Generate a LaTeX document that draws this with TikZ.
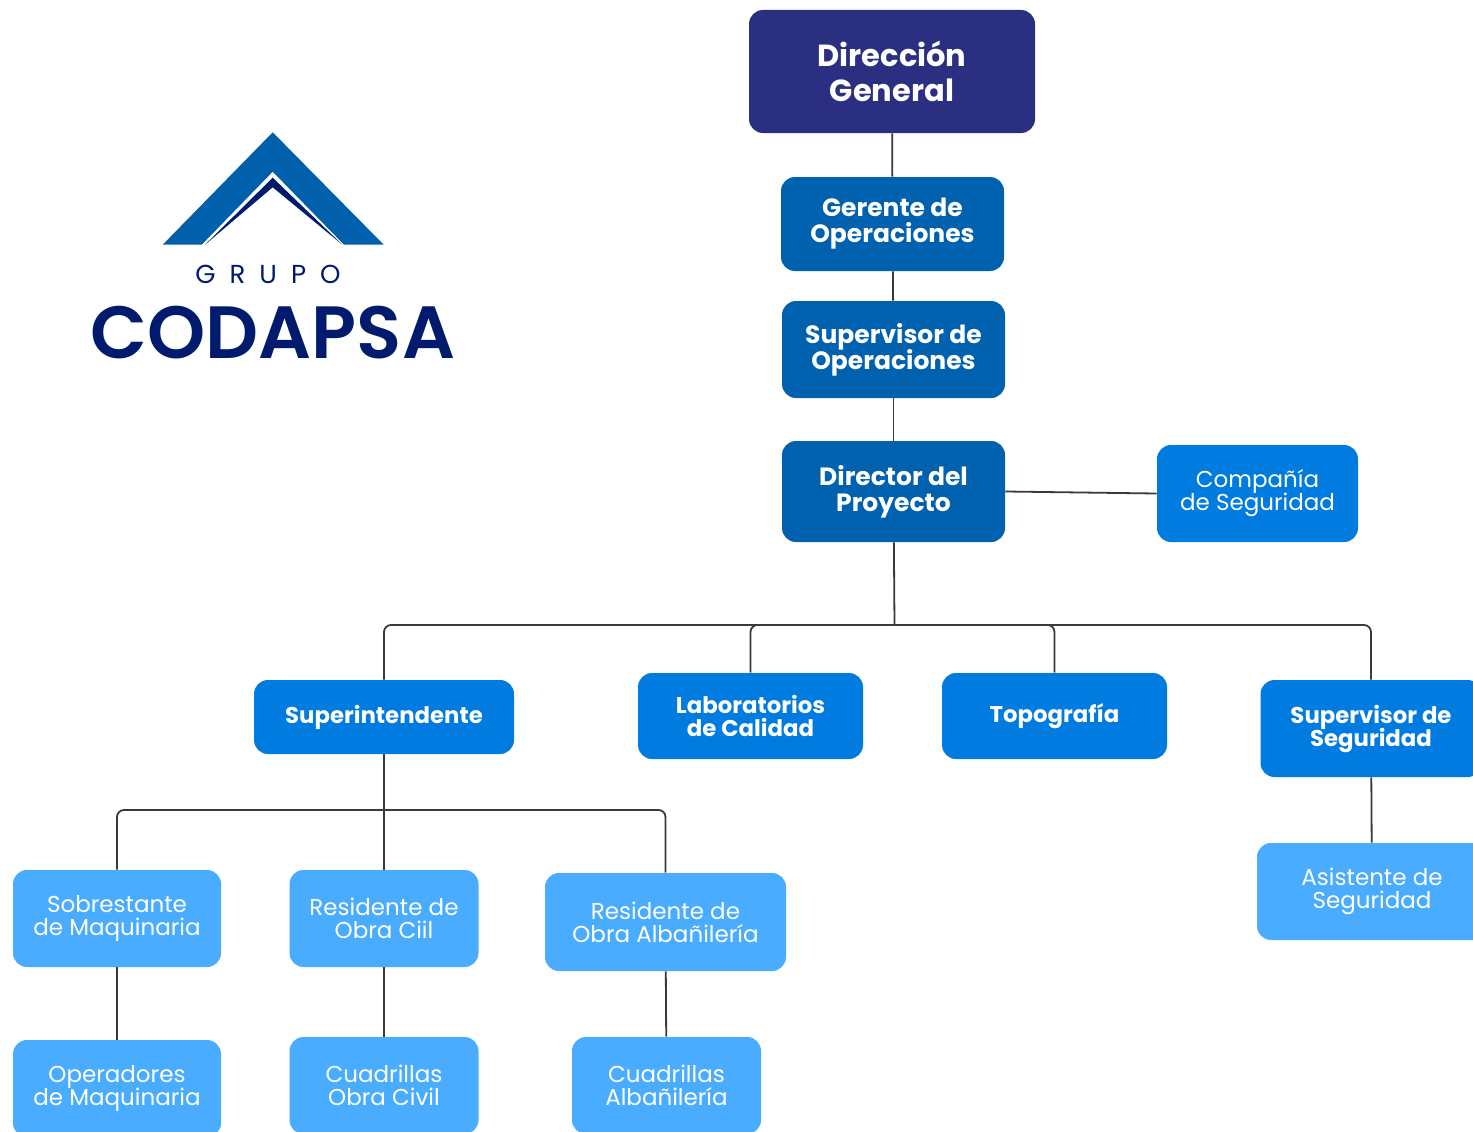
\documentclass[tikz,border=0pt]{standalone}
\usepackage{fontspec}
\usepackage{tikz}
\usetikzlibrary{positioning}
\usetikzlibrary{calc}
\newfontfamily\cardbold{Poppins}[UprightFont=*-Bold]
\newfontfamily\cardlight{Poppins}[UprightFont=*-Regular]
\newfontfamily\logolight{Poppins}[UprightFont=*-Regular,LetterSpace=54]
\newfontfamily\logomain{Poppins}[UprightFont=*-SemiBold]
\definecolor{headblue}{HTML}{2B2F82}
\definecolor{opsblue}{HTML}{0061AE}
\definecolor{areablue}{HTML}{007BE0}
\definecolor{staffblue}{HTML}{4AACFF}
\definecolor{logoblue}{HTML}{0060AB}
\definecolor{logonavy}{HTML}{001A6E}
\definecolor{linkgray}{HTML}{3A3A3A}
\lineskiplimit=-100pt
\normallineskiplimit=-100pt
\begin{document}
\begin{tikzpicture}[x=1pt,y=-1pt,thick,
	box node/.style={rounded corners=14pt,align=center,text=white,inner sep=0pt},
	head node/.style={box node,fill=headblue,font=\cardbold\fontsize{30.5}{35}\selectfont},
	ops node/.style={box node,fill=opsblue,font=\cardbold\fontsize{25}{26}\selectfont},
	area node/.style={box node,fill=areablue,font=\cardbold\fontsize{22.8}{23}\selectfont},
	side node/.style={box node,fill=areablue,font=\cardlight\fontsize{23}{23}\selectfont},
	staff node/.style={box node,fill=staffblue,font=\cardlight\fontsize{23}{23}\selectfont},
	link/.style={draw=linkgray,line width=1.8pt,rounded corners=7pt}]
	\useasboundingbox (0,0) rectangle (1473,1132);

	% logo
	\fill[logoblue] (272.7,132.3) -- (383.7,244.7) -- (344,244.7) -- (272.7,171.7) -- (201.7,244.7) -- (162.7,244.7) -- cycle;
	\fill[logonavy] (272.7,177.7) -- (342.3,244.7) -- (272.7,187.3) -- (205,244.7) -- cycle;
	\node[text=logonavy,font=\logolight\fontsize{26}{26}\selectfont] (grupo) at (268,274) {GRUPO};
	\node[text=logonavy,font=\logomain\fontsize{74}{74}\selectfont] (codapsa) at (273,333) {CODAPSA};

	% upper chain
	\node[head node,minimum width=286pt,minimum height=123pt] (dir) at (892,71.5) {Dirección\\General};
	\node[ops node,minimum width=223pt,minimum height=94pt] (ger) at (892.5,224) {Gerente de\\Operaciones};
	\node[ops node,minimum width=223pt,minimum height=97pt] (sup) at (893.5,349.5) {Supervisor de\\Operaciones};
	\node[ops node,minimum width=223pt,minimum height=101pt] (pro) at (893.5,491.5) {Director del\\Proyecto};
	\node[side node,minimum width=201pt,minimum height=97pt] (com) at (1257.5,493.5) {Compañía\\de Seguridad};

	% second level
	\node[area node,minimum width=260pt,minimum height=74pt] (int) at (384,717) {Superintendente};
	\node[area node,minimum width=225pt,minimum height=86pt] (lab) at (750.5,716) {Laboratorios\\de Calidad};
	\node[area node,minimum width=225pt,minimum height=86pt] (top) at (1054.5,716) {Topografía};
	\node[area node,minimum width=221pt,minimum height=97pt] (seg) at (1371,728.5) {Supervisor de\\Seguridad};

	% third level
	\node[staff node,minimum width=208pt,minimum height=97pt] (sob) at (117,918.5) {Sobrestante\\de Maquinaria};
	\node[staff node,minimum width=189pt,minimum height=97pt] (civ) at (384,918.5) {Residente de\\Obra Ciil};
	\node[staff node,minimum width=241pt,minimum height=98pt] (alb) at (665.5,922) {Residente de\\Obra Albañilería};
	\node[staff node,minimum width=230pt,minimum height=97pt] (asi) at (1372,891.5) {Asistente de\\Seguridad};
	\node[staff node,minimum width=208pt,minimum height=97pt] (ope) at (117,1088.5) {Operadores\\de Maquinaria};
	\node[staff node,minimum width=189pt,minimum height=97pt] (cuc) at (384,1085.5) {Cuadrillas\\Obra Civil};
	\node[staff node,minimum width=189pt,minimum height=97pt] (cua) at (666.5,1085.5) {Cuadrillas\\Albañilería};

	\coordinate (busa) at (894.5,625);
	\coordinate (busb) at (384,810);

	\path[link]
		(dir) edge (ger)
		(ger) edge (sup)
		(sup) edge (pro)
		(pro.east) edge (com.west)
		(pro) edge (busa)
		(int) edge (civ)
		(sob) edge (ope)
		(civ) edge (cuc)
		(alb) edge (cua)
		(seg) edge (asi)
	;
	\draw[link] (int.north) |- (busa);
	\draw[link] (lab.north) |- (busa);
	\draw[link] (top.north) |- (busa);
	\draw[link] (seg.north) |- (busa);
	\draw[link] (sob.north) |- (busb);
	\draw[link] (alb.north) |- (busb);
\end{tikzpicture}
\end{document}
